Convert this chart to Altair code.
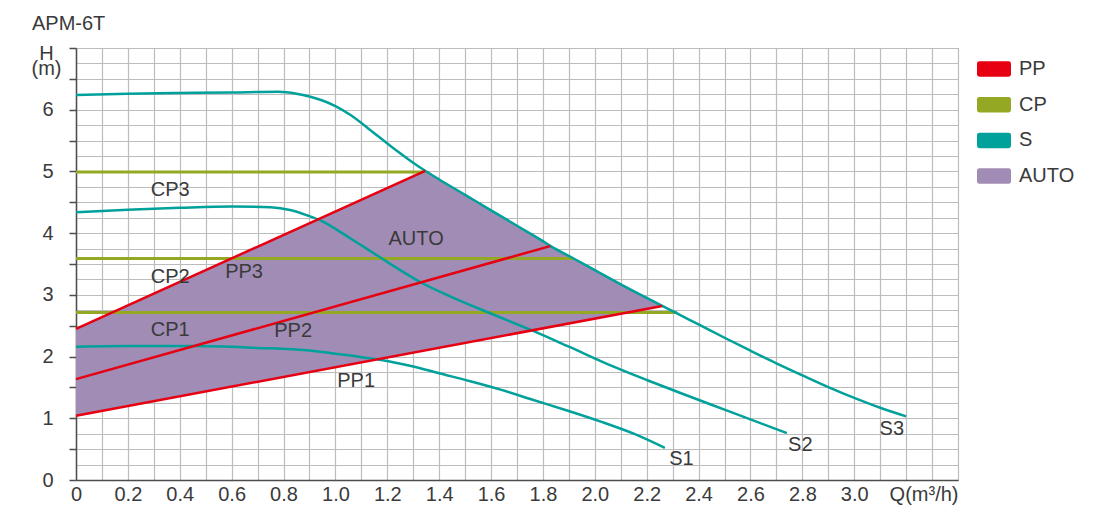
import altair as alt
import pandas as pd

# ---------------- data ----------------
TYPES = ["PP", "CP", "S", "AUTO"]
COLORS = ["#e60012", "#95a823", "#00a19a", "#a08cb4"]

# pump curves S1..S3 (Q in m3/h, H in m)
s1_q = [0, 0.2, 0.45, 0.7, 0.86, 0.94, 1.1, 1.17, 1.3, 1.4, 1.52, 1.64, 1.76, 1.89, 2.02, 2.15, 2.27]
s1_h = [2.16, 2.17, 2.17, 2.14, 2.11, 2.08, 1.99, 1.95, 1.84, 1.73, 1.60, 1.46, 1.30, 1.13, 0.95, 0.75, 0.52]

s2_q = [0, 0.2, 0.4, 0.6, 0.75, 0.83, 0.89, 0.94, 1.0, 1.06, 1.12, 1.19, 1.25, 1.33, 1.44, 1.58, 1.76, 1.9, 2.07, 2.2, 2.33, 2.5, 2.74]
s2_h = [4.34, 4.38, 4.41, 4.43, 4.42, 4.37, 4.29, 4.21, 4.07, 3.91, 3.75, 3.56, 3.40, 3.20, 2.98, 2.73, 2.42, 2.16, 1.84, 1.62, 1.41, 1.14, 0.76]

s3_q = [0, 0.2, 0.4, 0.6, 0.78, 0.85, 0.9, 0.95, 1.0, 1.06, 1.13, 1.21, 1.29, 1.346, 1.40, 1.5, 1.6, 1.7, 1.8, 1.83,
        1.92, 2.0, 2.1, 2.2, 2.26, 2.3, 2.4, 2.5, 2.6, 2.7, 2.8, 2.9, 3.0, 3.1, 3.2]
s3_h = [6.24, 6.26, 6.27, 6.28, 6.29, 6.26, 6.215, 6.15, 6.06, 5.91, 5.685, 5.42, 5.17, 5.01, 4.87, 4.62, 4.37, 4.12, 3.87, 3.79,
        3.585, 3.40, 3.17, 2.95, 2.82, 2.735, 2.52, 2.305, 2.095, 1.89, 1.695, 1.505, 1.33, 1.17, 1.03]

# proportional pressure lines PP1..PP3
pp1_q, pp1_h = [0, 2.26], [1.04, 2.82]
pp2_q, pp2_h = [0, 1.828], [1.635, 3.79]
pp3_q, pp3_h = [0, 1.346], [2.45, 5.01]

# constant pressure lines CP1..CP3
cp1_q, cp1_h = [0, 2.317], [2.715, 2.715]
cp2_q, cp2_h = [0, 1.917], [3.59, 3.59]
cp3_q, cp3_h = [0, 1.346], [4.99, 4.99]

# AUTO region (upper edge: PP3 then S3, lower edge: PP1)
auto_q = [0, 1.346, 1.40, 1.5, 1.6, 1.7, 1.8, 1.83, 1.92, 2.0, 2.1, 2.2, 2.26]
auto_hi = [2.45, 5.01, 4.87, 4.62, 4.37, 4.12, 3.87, 3.79, 3.585, 3.40, 3.17, 2.95, 2.82]
auto_lo = [1.04, 2.10, 2.143, 2.221, 2.30, 2.379, 2.458, 2.481, 2.552, 2.615, 2.694, 2.773, 2.82]

# in-chart labels
lab_text = ["CP3", "CP2", "CP1", "PP3", "PP2", "PP1", "AUTO", "S1", "S2", "S3"]
lab_q = [0.363, 0.363, 0.363, 0.648, 0.837, 1.08, 1.311, 2.334, 2.792, 3.145]
lab_h = [4.70, 3.29, 2.43, 3.37, 2.41, 1.60, 3.90, 0.34, 0.57, 0.83]

x_ticks = [round(i * 0.1, 2) for i in range(35)]
y_ticks = [i * 0.25 for i in range(29)]

# ---------------- chart ----------------
FONT = "Liberation Sans"
TXT = "#3a3a3a"
C = dict(zip(TYPES, COLORS))


def sdf(name, qs, hs):
    return pd.DataFrame({"q": qs, "h": hs, "series": name})


s_df = pd.concat([sdf("S1", s1_q, s1_h), sdf("S2", s2_q, s2_h), sdf("S3", s3_q, s3_h)])
pp_df = pd.concat([sdf("PP1", pp1_q, pp1_h), sdf("PP2", pp2_q, pp2_h), sdf("PP3", pp3_q, pp3_h)])
cp_df = pd.concat([sdf("CP1", cp1_q, cp1_h), sdf("CP2", cp2_q, cp2_h), sdf("CP3", cp3_q, cp3_h)])
auto_df = pd.DataFrame({"q": auto_q, "h": auto_hi, "h2": auto_lo})
lab_df = pd.DataFrame({"q": lab_q, "h": lab_h, "t": lab_text})
leg_df = pd.DataFrame({"q": [0] * 4, "h": [0] * 4, "type": TYPES})

x_label_expr = (
    "datum.value == 0 ? '0' : datum.value > 3.35 ? 'Q(m³/h)' : "
    "(abs(datum.value*5 - round(datum.value*5)) < 0.001 && datum.value < 3.05) ? format(datum.value, '.1f') : ''"
)

x_axis = alt.Axis(
    values=x_ticks, grid=True, gridColor="#bcbcbc", gridWidth=1.2, ticks=False,
    domainColor="#4d4d4d", domainWidth=1.5, labelExpr=x_label_expr, labelFlush=False,
    labelOverlap=False, labelFont=FONT, labelFontSize=20, labelColor=TXT, labelPadding=4.5,
    labelAlign={"condition": {"test": "datum.value > 3.35", "value": "right"}, "value": "center"},
    title=None,
)
y_axis = alt.Axis(
    values=y_ticks, grid=True, gridColor="#bcbcbc", gridWidth=1.2, ticks=True, tickSize=7,
    tickColor="#4d4d4d", tickWidth=1.5,
    tickOpacity={"condition": {"test": "datum.value*2 == round(datum.value*2)", "value": 1}, "value": 0},
    domainColor="#4d4d4d", domainWidth=1.5,
    labelExpr="(datum.value == round(datum.value) && datum.value < 6.5) ? toString(datum.value) : ''",
    labelOverlap=False, labelFont=FONT, labelFontSize=20, labelColor=TXT, labelPadding=16,
    title=["H", "(m)"], titleAngle=0, titleAlign="center", titleBaseline="alphabetic",
    titleX=-30, titleY=11, titleFont=FONT, titleFontSize=20, titleFontWeight="normal",
    titleColor=TXT, titleLineHeight=15,
)

X = alt.X("q:Q", scale=alt.Scale(domain=[0, 3.4], nice=False, zero=False), axis=x_axis)
Y = alt.Y("h:Q", scale=alt.Scale(domain=[0, 7], nice=False), axis=y_axis)

area = alt.Chart(auto_df).mark_area(opacity=1, interpolate="linear", color=C["AUTO"]).encode(
    x=X, y=Y, y2="h2:Q",
)
cp_lines = alt.Chart(cp_df).mark_line(strokeWidth=3, color=C["CP"]).encode(
    x=X, y=Y, detail="series:N"
)
s_lines = alt.Chart(s_df).mark_line(strokeWidth=2.5, interpolate="monotone", color=C["S"]).encode(
    x=X, y=Y, detail="series:N"
)
pp_lines = alt.Chart(pp_df).mark_line(strokeWidth=2.5, color=C["PP"]).encode(
    x=X, y=Y, detail="series:N"
)
labels = alt.Chart(lab_df).mark_text(font=FONT, fontSize=20, color=TXT, align="center", baseline="middle").encode(
    x=X, y=Y, text="t:N"
)

rect_path = ("M-0.86,-0.455 H0.86 Q1,-0.455 1,-0.315 V0.315 Q1,0.455 0.86,0.455 H-0.86 "
             "Q-1,0.455 -1,0.315 V-0.315 Q-1,-0.455 -0.86,-0.455 Z")
legend_layer = alt.Chart(leg_df).mark_point(filled=True, opacity=0, size=0).encode(
    x=X, y=Y,
    fill=alt.Fill("type:N", scale=alt.Scale(domain=TYPES, range=COLORS), sort=TYPES,
                  legend=alt.Legend(
                      orient="none", legendX=901, legendY=4, title=None, symbolType=rect_path,
                      symbolSize=1156, symbolStrokeWidth=0, symbolOpacity=1, labelFont=FONT,
                      labelFontSize=20, labelColor=TXT, labelOffset=8, rowPadding=8.7, padding=0,
                  )),
)

chart = alt.layer(area, cp_lines, s_lines, pp_lines, labels, legend_layer).properties(
    width=882, height=432,
    autosize=alt.AutoSizeParams(type="none"),
    padding={"left": 68, "top": 40, "right": 147, "bottom": 26},
    title=alt.TitleParams("APM-6T", anchor="start", frame="group", dx=-44, fontSize=20,
                          fontWeight="normal", font=FONT, color=TXT),
    background="white",
).configure_view(stroke="#666666", strokeWidth=1)

chart.save("out.html", embed_options={"renderer": "svg", "actions": False})
